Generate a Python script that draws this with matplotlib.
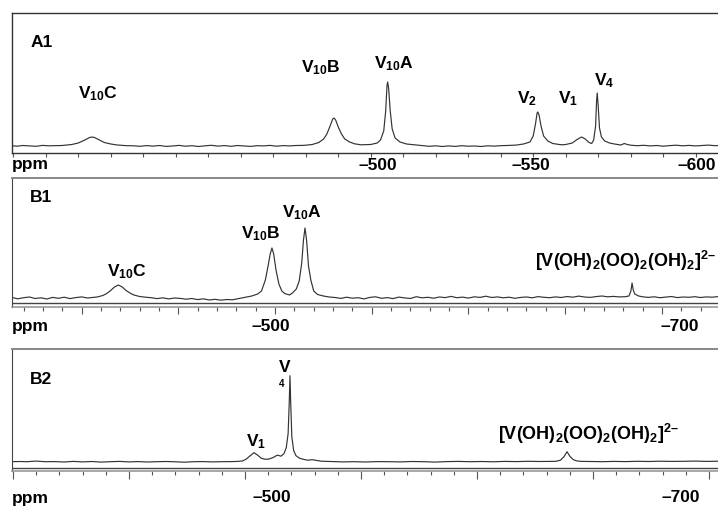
import matplotlib
matplotlib.use("Agg")
import matplotlib.pyplot as plt
import numpy as np

plt.rcParams['font.family'] = ['Liberation Sans', 'DejaVu Sans']
plt.rcParams['font.weight'] = 'bold'
plt.rcParams['mathtext.fontset'] = 'custom'
plt.rcParams['mathtext.rm'] = 'Liberation Sans:bold'
plt.rcParams['mathtext.it'] = 'Liberation Sans:bold'
plt.rcParams['mathtext.bf'] = 'Liberation Sans:bold'

# ---- spectrum A1 (ppm, intensity) ----
a1_ppm = [-389.6, -391, -393, -395, -397, -399, -401, -403,
          -405, -408, -410, -412, -413.5, -414.2, -415, -416.5, -418, -420, -422, -425,
          -427, -429, -431, -433, -435, -437, -439, -441, -443, -445, -447, -449, -451, -453,
          -455, -457, -459, -461, -463, -465, -467, -469, -471, -473, -475, -477, -479,
          -480, -482, -484, -485.5, -486.5, -487.5, -488.3, -488.7, -489.2, -490, -491, -492, -493.5, -495, -497,
          -500, -502, -503, -504, -504.6, -505.0, -505.2, -505.5, -506, -506.6, -507.5, -509, -511, -514,
          -516, -518, -520, -522, -524, -526, -528, -530, -532, -534, -536, -538, -540, -542, -543.5,
          -545, -547, -549, -550, -550.7, -551.2, -551.4, -551.8, -552.4, -553.2, -554.5, -556, -558,
          -559, -560, -562, -563.5, -564.9, -566, -567.2, -568,
          -568.6, -569.2, -569.5, -569.7, -570.0, -570.4, -571, -572, -573.5, -575, -577,
          -578, -579, -580,
          -582, -584, -586, -588, -590, -592, -594, -596, -598, -600, -602, -604, -606, -608.1]
a1_int = [0.3, -0.2, 0.5, 0.1, -0.3, 0.6, 0.2, 0.4,
          0.5, 1.5, 3, 6, 8.5, 9, 8.5, 6, 3.5, 2, 1, 0.3,
          0.2, -0.3, 0.4, -0.1, 0.5, -0.4, 0.0, 0.6, -0.2, 0.3, -0.5, 0.2, 0.7, -0.1,
          0.4, -0.3, 0.5, 0.0, -0.4, 0.3, 0.1, 0.6, -0.2, 0.4, 0.1, 0.5, 0.6,
          0.8, 1.5, 3.5, 7, 12, 20, 27, 28, 26, 19, 12, 7, 4, 2.2, 1.2,
          1.5, 3, 6, 15, 35, 60, 64, 58, 35, 17, 8, 4, 2, 1,
          0.4, -0.3, 0.2, -0.5, 0.1, -0.4, 0.3, -0.2, 0.0, -0.5, 0.2, -0.1, 0.3, 0.5, 0.7,
          1, 2, 4, 10, 22, 33, 34, 31, 20, 10, 5, 2.5, 1.5,
          1.2, 1.5, 3, 6.5, 9, 7, 3.5, 2.5,
          6, 20, 45, 53, 40, 18, 9, 5, 3, 2, 1,
          2.5, 1.5, 0.8,
          0.3, 0.7, 0.1, 0.5, -0.2, 0.4, 0.8, 0.2, 0.6, 0.1, 0.5, 0.9, 0.3, 0.6]

# ---- spectrum B1 ----
b1_ppm = [-364, -367, -370, -373, -376, -379, -382, -385, -388, -391, -394, -397, -400, -403, -406,
          -408, -411, -413, -415, -417, -419, -421, -423, -425, -427, -430, -433,
          -436, -439, -442, -445, -448, -451, -454, -457, -460, -463, -466, -469, -472, -475, -478, -481, -484,
          -488, -491, -493, -495, -496.5, -497.5, -498.4, -499.3, -500.5, -502, -503.5, -505, -507.5,
          -509, -511, -512.5, -513.8, -514.7, -515.5, -516.3, -517.3, -518.5, -520, -522, -525, -528,
          -531, -534, -537, -540, -543, -546, -549, -552, -555, -558,
          -561, -564, -567, -570, -573, -576, -579, -582, -585, -588,
          -591, -594, -597, -600, -603, -606, -609, -612, -615, -618,
          -621, -624, -627, -630, -633, -636, -639, -642, -645, -648,
          -651, -654, -657, -660, -663, -666, -669, -672, -675, -678,
          -681, -683, -684, -684.6, -685.2, -686, -688, -690,
          -693, -696, -699, -702, -705, -708, -711, -714, -717, -720, -723, -726, -729, -731.1]
b1_int = [0.5, -0.8, 0.3, 1.0, -0.5, 0.2, -1.0, 0.6, -0.3, 0.8, -0.6, 0.4, 1.1, 0.0, 0.6,
          1, 2.5, 4.5, 7.5, 11, 13, 11, 7.5, 5, 3, 1.5, 0.8,
          0.3, -0.6, 0.2, -0.9, 0.0, -0.4, -1.2, -0.5, -1.6, -0.8, -2.0, -1.3, -2.2, -1.5, -1.8, -0.6, 0.5,
          2, 4, 7, 18, 33, 44, 50, 44, 28, 14, 7, 4.5, 3,
          5, 9, 17, 35, 58, 70, 58, 32, 18, 7, 3.5, 2, 1,
          0.5, -0.4, 0.8, -0.2, 0.3, -0.9, 0.6, 1.2, -0.3, 0.4,
          -0.6, 0.9, 0.1, -0.5, 1.3, 0.2, 0.7, -0.2, 1.0, 0.4,
          1.6, 0.3, 0.9, -0.1, 1.2, 0.6, 1.8, 0.5, 1.1, 0.2,
          0.8, -0.3, 0.6, 1.0, 0.2, 1.4, 0.7, 0.3, 1.1, 0.5,
          1.5, 0.8, 1.9, 1.0, 0.6, 1.4, 2.0, 1.2, 1.6, 1.1,
          1.3, 2, 7, 15, 8, 4, 2, 1.2,
          0.6, 1.2, 0.3, 0.9, 1.5, 0.4, 1.0, 0.7, 1.3, 0.5, 1.1, 0.8, 1.4, 0.9]

# ---- spectrum B2 ----
b2_ppm = [-399.6, -403, -406, -410, -414, -418, -422, -426, -430, -434, -438, -442, -446,
          -450, -454, -458, -462, -466, -470, -474, -478, -482, -486, -490, -494, -497,
          -499, -500.5, -502, -503.9, -505.5, -507, -508.5,
          -510, -512, -513.5, -514.2, -515.5, -516.8, -517.8, -518.6, -519.1, -519.4,
          -519.7, -520.2, -521, -522, -523.5, -525, -527, -529, -531, -533,
          -537, -542, -547, -552, -557, -562, -567, -572, -577, -582,
          -587, -592, -597, -602, -607, -612, -617, -622, -627, -632,
          -634, -636, -637.5, -638.8, -640, -641.5, -643, -645,
          -649, -654, -659, -664, -669, -674, -679, -684, -689, -694, -699, -704, -705.6]
b2_int = [0, 0.2, 0, 0.6, 0, 0.1, -0.3, 0.3, -0.2, 0.2, -0.4, 0, 0.3,
          -0.2, 0.1, -0.3, 0, 0.2, -0.1, -0.5, 0, 0.1, -0.2, 0, 0.1, 0.3,
          0.8, 2.5, 5.5, 9, 6.5, 3.5, 2.5,
          2.5, 4, 6, 6.5, 5.5, 8, 14, 28, 60, 86,
          60, 25, 11, 6, 3.5, 2.5, 1.5, 2, 1.2, 0.5,
          0.2, -0.2, 0, -0.3, 0.1, 0, -0.2, 0.2, 0, -0.4,
          0.1, 0.3, 0, 0.2, -0.1, 0.3, 0.1, 0.4, 0.2, 0.3,
          0.4, 1.5, 5, 10, 5.5, 2, 0.8, 0.3,
          0.2, 0, 0.3, 0.1, 0.4, 0.2, 0.5, 0.3, 0.4, 0.6, 0.3, 0.5, 0.4]

peroxo = '$[V(OH)_2(OO)_2(OH)_2]^{2\u2013}$'

W, H = 718, 508
fig = plt.figure(figsize=(W / 100, H / 100), dpi=100)


def panel(top, bottom, xlim, ylim):
    ax = fig.add_axes([12 / W, 1 - bottom / H, 710 / W, (bottom - top) / H])
    ax.set_xlim(*xlim)
    ax.set_ylim(*ylim)
    ax.set_yticks([])
    ax.tick_params(axis='x', which='both', direction='out', color='#555',
                   width=0.8, labelbottom=False)
    return ax


fs = 12.5
line_kw = dict(color='#333333', lw=0.85)

# A1
ax = panel(13, 153, (-389.6, -608.1), (-7, 133))
ax.plot(a1_ppm, a1_int, **line_kw)
for s in ax.spines.values():
    s.set_color('#333333')
    s.set_linewidth(1.0)
ax.set_xticks(np.arange(-390, -601, -10))
ax.tick_params(axis='x', length=3)
ax.text(-395.2, 99, 'A1', fontsize=fs, fontweight='bold', va='baseline')
ax.text(-416.1, 48, r'$V_{10}C$', fontsize=fs, ha='center', va='baseline')
ax.text(-484.7, 74, r'$V_{10}B$', fontsize=fs, ha='center', va='baseline')
ax.text(-507.2, 78, r'$V_{10}A$', fontsize=fs, ha='center', va='baseline')
ax.text(-548.1, 43, r'$V_2$', fontsize=fs, ha='center', va='baseline')
ax.text(-560.7, 43, r'$V_1$', fontsize=fs, ha='center', va='baseline')
ax.text(-571.8, 61, r'$V_4$', fontsize=fs, ha='center', va='baseline')
ax.text(-389.6, -19, 'ppm', fontsize=fs, fontweight='bold', va='center', ha='left', clip_on=False)
for p, lab in zip([-502.2, -549.3, -600.4], ['\u2013500', '\u2013550', '\u2013600']):
    ax.text(p, -19, lab, fontsize=fs, fontweight='bold', va='center', ha='center', clip_on=False)

# B1
ax = panel(177.7, 306.7, (-364.0, -731.1), (-8.7, 120.3))
ax.plot(b1_ppm, b1_int, **line_kw)
ax.axhline(-4.7, color='#444444', lw=1.0)
ax.spines['top'].set_color('#888888')
ax.spines['top'].set_linewidth(1.4)
ax.spines['left'].set_color('#444444')
ax.spines['bottom'].set_color('#999999')
ax.spines['bottom'].set_linewidth(1.2)
ax.set_xticks(np.arange(-400, -701, -50))
ax.set_xticks(np.arange(-370, -731, -10), minor=True)
ax.tick_params(axis='x', which='major', length=5)
ax.tick_params(axis='x', which='minor', length=3)
ax.text(-373.3, 96, 'B1', fontsize=fs, fontweight='bold', va='baseline')
ax.text(-423.5, 22, r'$V_{10}C$', fontsize=fs, ha='center', va='baseline')
ax.text(-492.8, 60, r'$V_{10}B$', fontsize=fs, ha='center', va='baseline')
ax.text(-514.0, 81, r'$V_{10}A$', fontsize=fs, ha='center', va='baseline')
ax.text(-634.4, 31, peroxo, fontsize=13, ha='left', va='baseline', clip_on=False)
ax.text(-364.0, -28.7, 'ppm', fontsize=fs, fontweight='bold', va='center', ha='left', clip_on=False)
for p, lab in zip([-497.9, -709.4], ['\u2013500', '\u2013700']):
    ax.text(p, -28.7, lab, fontsize=fs, fontweight='bold', va='center', ha='center', clip_on=False)

# B2
ax = panel(349.3, 470.7, (-399.6, -705.6), (-9, 112.4))
ax.plot(b2_ppm, b2_int, **line_kw)
ax.axhline(-6.3, color='#444444', lw=1.0)
ax.spines['top'].set_color('#888888')
ax.spines['top'].set_linewidth(1.4)
ax.spines['left'].set_color('#444444')
ax.spines['bottom'].set_color('#999999')
ax.spines['bottom'].set_linewidth(1.2)
ax.set_xticks(np.arange(-400, -701, -50))
ax.set_xticks(np.arange(-410, -701, -10), minor=True)
ax.tick_params(axis='x', which='major', length=6)
ax.tick_params(axis='x', which='minor', length=3)
ax.text(-407.3, 77.7, 'B2', fontsize=fs, fontweight='bold', va='baseline')
ax.text(-504.7, 15.7, r'$V_1$', fontsize=fs, ha='center', va='baseline')
ax.text(-517.2, 89.7, 'V', fontsize=fs, fontweight='bold', ha='center', va='baseline')
ax.text(-516.0, 74.7, '4', fontsize=7, fontweight='bold', ha='center', va='baseline')
ax.text(-609.0, 21.7, peroxo, fontsize=13, ha='left', va='baseline')
ax.text(-399.6, -36.3, 'ppm', fontsize=fs, fontweight='bold', va='center', ha='left', clip_on=False)
for p, lab in zip([-511.6, -687.9], ['\u2013500', '\u2013700']):
    ax.text(p, -36.3, lab, fontsize=fs, fontweight='bold', va='center', ha='center', clip_on=False)

fig.savefig('out.png', dpi=100)
